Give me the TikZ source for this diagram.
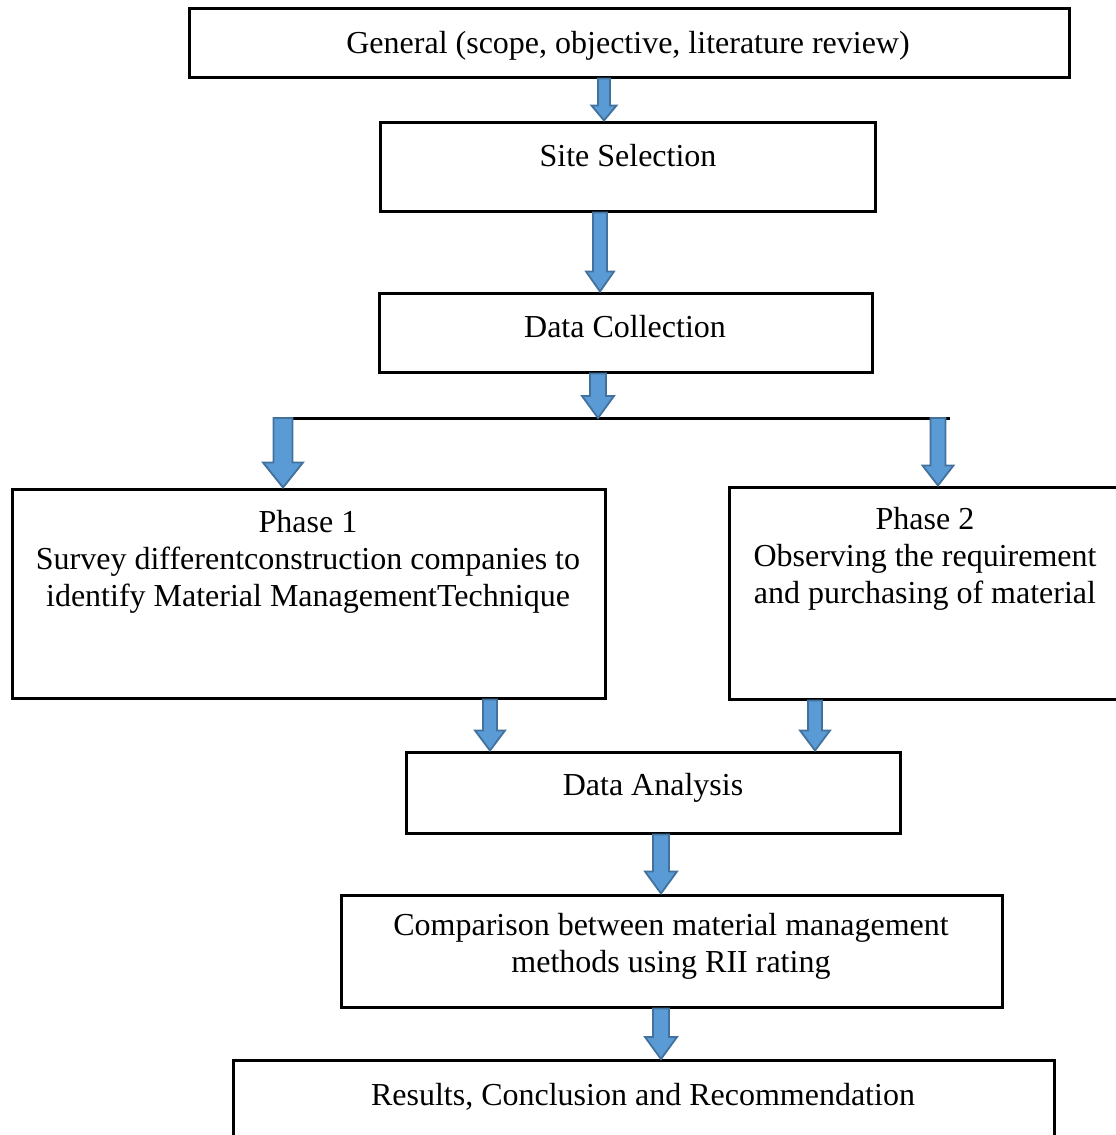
\documentclass[tikz,border=0pt]{standalone}
\usepackage{fontspec}
\setmainfont{Liberation Serif}
\usepackage{xcolor}
\usetikzlibrary{calc}

\definecolor{arrowfill}{HTML}{5B9BD5}
\definecolor{arrowline}{HTML}{41719C}

% block arrow : x, from, to, half shaft, half head, head length
\newcommand{\blockarrow}[6]{%
    \draw[blockarrow] let \p1=(#2), \p2=(#3), \p3=(#1,0), \p4=(#4,0), \p5=(#5,0), \p6=(#6,0) in
        (\x3-\x4,\y1) -- (\x3+\x4,\y1) -- (\x3+\x4,\y2+\x6) -- (\x3+\x5,\y2+\x6)
        -- (\x3,\y2) -- (\x3-\x5,\y2+\x6) -- (\x3-\x4,\y2+\x6) -- cycle;
}

\begin{document}
\begin{tikzpicture}[
        x=0.5pt, y=-0.5pt,
        box/.style={draw, line width=1.5pt, inner sep=0pt},
        txt/.style={font=\fontsize{16}{18.5}\selectfont, align=center, inner sep=0pt},
        blockarrow/.style={fill=arrowfill, draw=arrowline, line width=0.9pt, line join=miter}
    ]
    \useasboundingbox (0,0) rectangle (1115,1135);

    % -- Boites --
    \node[box, minimum width=440pt, minimum height=34.5pt] (general) at (629,42.5) {};
    \node[box, minimum width=247.5pt, minimum height=44.5pt] (site) at (627.5,166.5) {};
    \node[box, minimum width=246.5pt, minimum height=39.5pt] (data) at (625.5,332.5) {};
    \node[box, minimum width=296.5pt, minimum height=104.5pt] (phase1) at (308.5,593.5) {};
    \node[box, minimum width=200.5pt, minimum height=106pt] (phase2) at (929.5,593) {};
    \node[box, minimum width=247pt, minimum height=40.5pt] (analysis) at (653,792.5) {};
    \node[box, minimum width=330.5pt, minimum height=56pt] (compare) at (671.5,951) {};
    \node[box, minimum width=410.5pt, minimum height=49.5pt] (results) at (643.5,1110) {};

    % -- Textes --
    \node[txt] (general-t) at (628,46) {General (scope, objective, literature review)};
    \node[txt] (site-t) at (628,156) {Site Selection};
    \node[txt] (data-t) at (625,327) {Data Collection};
    \node[txt] (phase1-t) at (308,562) {Phase 1\\Survey differentconstruction companies to\\identify Material ManagementTechnique};
    \node[txt] (phase2-t) at (925,559) {Phase 2\\Observing the requirement\\and purchasing of material};
    \node[txt] (analysis-t) at (653,788) {Data Analysis};
    \node[txt] (compare-t) at (671,946) {Comparison between material management\\methods using RII rating};
    \node[txt] (results-t) at (643,1097) {Results, Conclusion and Recommendation};

    % -- Ligne de separation --
    \coordinate (splitL) at (275,418);
    \coordinate (split) at (598,418);
    \coordinate (splitR) at (950,418);
    \draw[line width=1.5pt] (splitL) -- (splitR);

    % -- Fleches --
    \blockarrow{604}{general.south}{site.north}{6}{12.5}{15}
    \blockarrow{600}{site.south}{data.north}{7}{14}{20}
    \blockarrow{598}{data.south}{split}{8}{16}{22}
    \blockarrow{283}{split}{phase1.north}{9.5}{20}{25}
    \blockarrow{938}{split}{phase2.north}{7.5}{15.5}{20}
    \blockarrow{490}{phase1.south}{analysis.north}{7}{15}{20}
    \blockarrow{815}{phase2.south}{analysis.north}{7}{15}{20}
    \blockarrow{661}{analysis.south}{compare.north}{8}{16}{22}
    \blockarrow{661}{compare.south}{results.north}{8}{16}{22}

\end{tikzpicture}
\end{document}
